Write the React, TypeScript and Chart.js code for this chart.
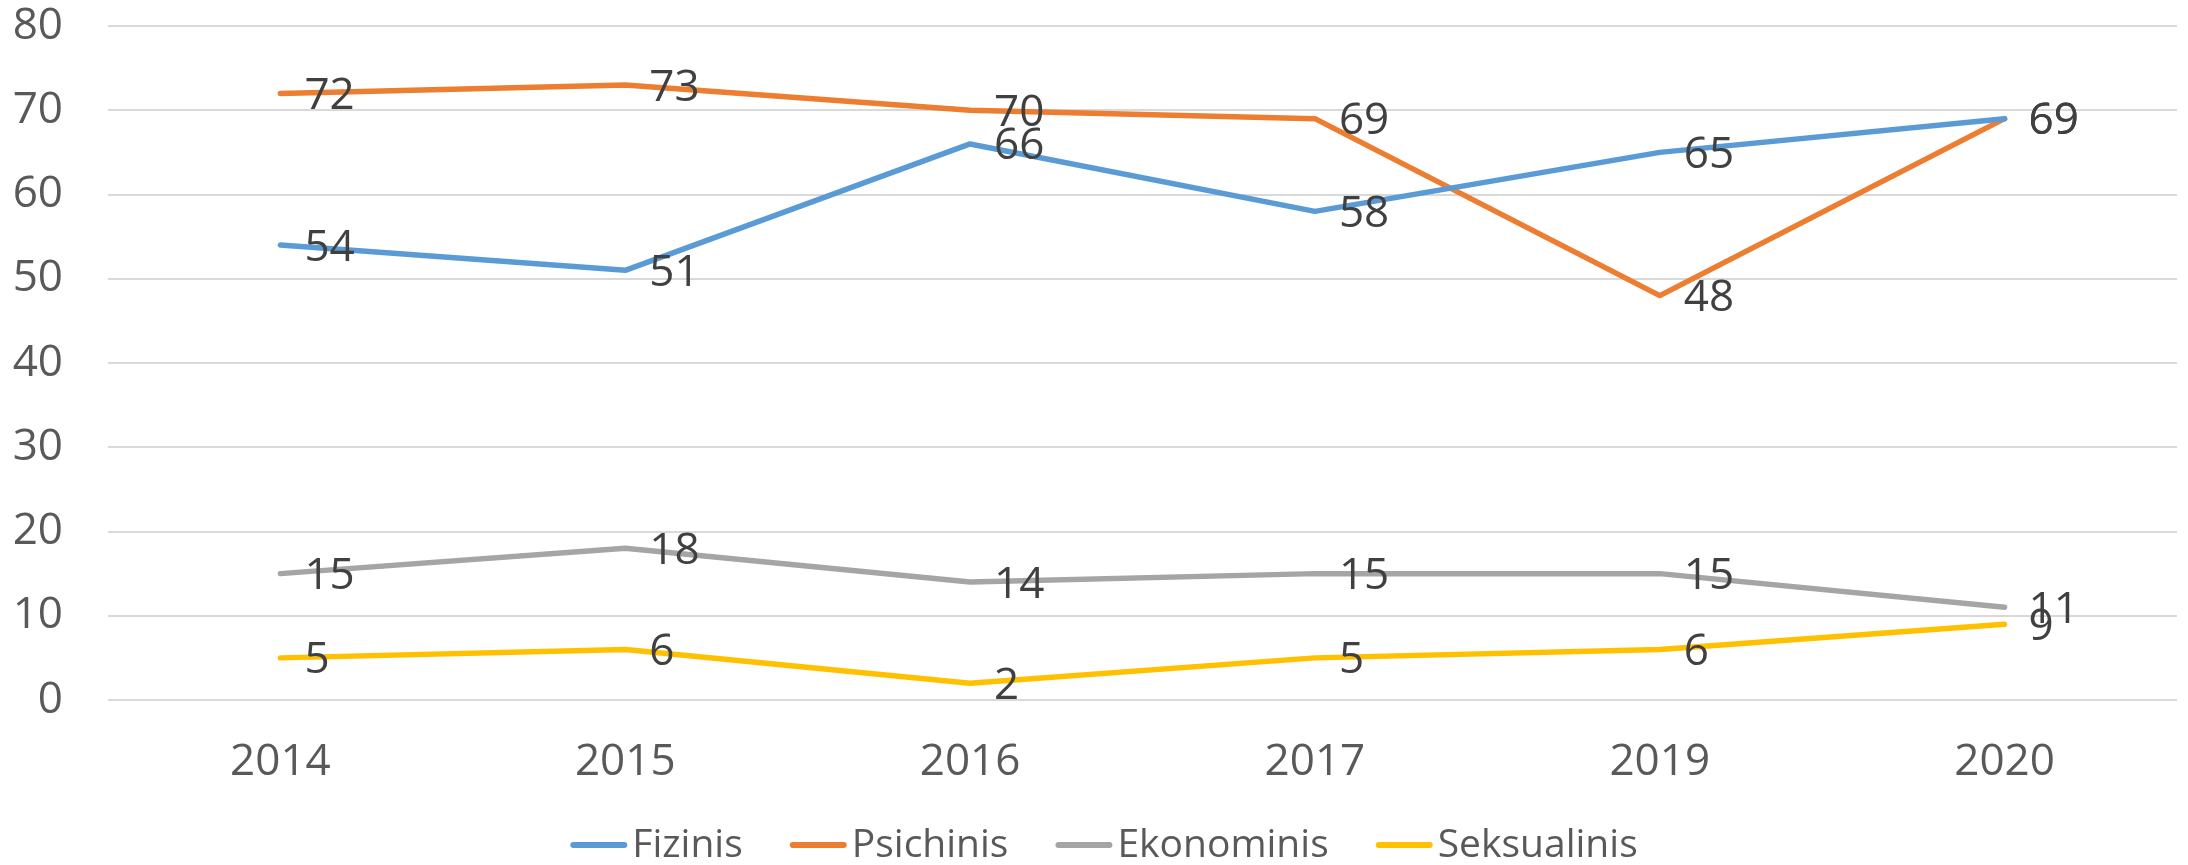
import React, { useEffect, useRef } from "react";
import { Chart, registerables } from "chart.js";

Chart.register(...registerables);

const years = ["2014", "2015", "2016", "2017", "2019", "2020"];
const fizinis = [54, 51, 66, 58, 65, 69];
const psichinis = [72, 73, 70, 69, 48, 69];
const ekonominis = [15, 18, 14, 15, 15, 11];
const seksualinis = [5, 6, 2, 5, 6, 9];
const seriesNames = ["Fizinis", "Psichinis", "Ekonominis", "Seksualinis"];
const seriesColors = ["#5B9BD5", "#ED7D31", "#A5A5A5", "#FFC000"];

const FONT = "'Open Sans', 'Liberation Sans', sans-serif";

const yAxisPlugin = {
  id: "yAxisDraw",
  beforeDatasetsDraw(chart: any) {
    const ctx = chart.ctx;
    const scale = chart.scales.y;
    const area = chart.chartArea;
    ctx.save();
    ctx.strokeStyle = "#D9D9D9";
    ctx.lineWidth = 2;
    scale.ticks.forEach((t: any) => {
      const y = Math.round(scale.getPixelForValue(t.value));
      ctx.beginPath();
      ctx.moveTo(area.left, y);
      ctx.lineTo(area.right, y);
      ctx.stroke();
    });
    ctx.font = `44px ${FONT}`;
    ctx.fillStyle = "#595959";
    ctx.textAlign = "right";
    ctx.textBaseline = "middle";
    scale.ticks.forEach((t: any) => {
      ctx.fillText(String(t.value), area.left - 45, scale.getPixelForValue(t.value));
    });
    ctx.restore();
  },
};

const dataLabelPlugin = {
  id: "dataLabels",
  afterDatasetsDraw(chart: any) {
    const ctx = chart.ctx;
    ctx.save();
    ctx.font = `44px ${FONT}`;
    ctx.fillStyle = "#404040";
    ctx.textAlign = "left";
    ctx.textBaseline = "middle";
    chart.data.datasets.forEach((ds: any, i: number) => {
      const meta = chart.getDatasetMeta(i);
      meta.data.forEach((el: any, j: number) => {
        ctx.fillText(String(ds.data[j]), el.x + 24, el.y + 3);
      });
    });
    ctx.restore();
  },
};

const legendPlugin = {
  id: "customLegend",
  afterDraw(chart: any) {
    const ctx = chart.ctx;
    ctx.save();
    ctx.font = `39px ${FONT}`;
    const lineLen = 57;
    const gapText = 5;
    const gapItem = 47;
    const ds = chart.data.datasets;
    const widths = ds.map((d: any) => lineLen + gapText + ctx.measureText(d.label).width);
    const total = widths.reduce((a: number, b: number) => a + b, 0) + gapItem * (ds.length - 1);
    let x = chart.width / 2 + 10 - total / 2;
    const y = chart.height - 20;
    ds.forEach((d: any, i: number) => {
      ctx.strokeStyle = d.borderColor;
      ctx.lineWidth = 6;
      ctx.lineCap = "round";
      ctx.beginPath();
      ctx.moveTo(x + 3, y);
      ctx.lineTo(x + lineLen - 3, y);
      ctx.stroke();
      ctx.fillStyle = "#595959";
      ctx.textAlign = "left";
      ctx.textBaseline = "middle";
      ctx.fillText(d.label, x + lineLen + gapText, y + 1);
      x += widths[i] + gapItem;
    });
    ctx.restore();
  },
};

export default function App() {
  const ref = useRef<HTMLCanvasElement>(null);
  useEffect(() => {
    document.body.style.margin = "0";
    const values = [fizinis, psichinis, ekonominis, seksualinis];
    const chart = new Chart(ref.current as HTMLCanvasElement, {
      type: "line",
      data: {
        labels: years,
        datasets: values.map((v, i) => ({
          label: seriesNames[i],
          data: v,
          borderColor: seriesColors[i],
          backgroundColor: seriesColors[i],
          borderWidth: 5.5,
          borderCapStyle: "round",
          borderJoinStyle: "round",
          pointRadius: 0,
          tension: 0,
        })),
      },
      options: {
        responsive: false,
        animation: false,
        layout: { padding: { left: 108, right: 11, top: 26, bottom: 77 } },
        plugins: { legend: { display: false }, tooltip: { enabled: false } },
        scales: {
          x: {
            offset: true,
            afterFit: (s: any) => {
              s.height = 88;
              s.paddingLeft = 0;
              s.paddingRight = 0;
            },
            grid: { display: false, drawTicks: false },
            border: { display: false },
            ticks: { color: "#595959", font: { family: FONT, size: 44 }, padding: 36 },
          },
          y: {
            min: 0,
            max: 80,
            afterFit: (s: any) => {
              s.width = 0;
              s.paddingTop = 0;
              s.paddingBottom = 0;
            },
            grid: { display: false, drawTicks: false },
            border: { display: false },
            ticks: { stepSize: 10, display: false },
          },
        },
      },
      plugins: [yAxisPlugin, dataLabelPlugin, legendPlugin],
    } as any);
    return () => chart.destroy();
  }, []);
  return <canvas ref={ref} width={2188} height={865} style={{ display: "block" }} />;
}
